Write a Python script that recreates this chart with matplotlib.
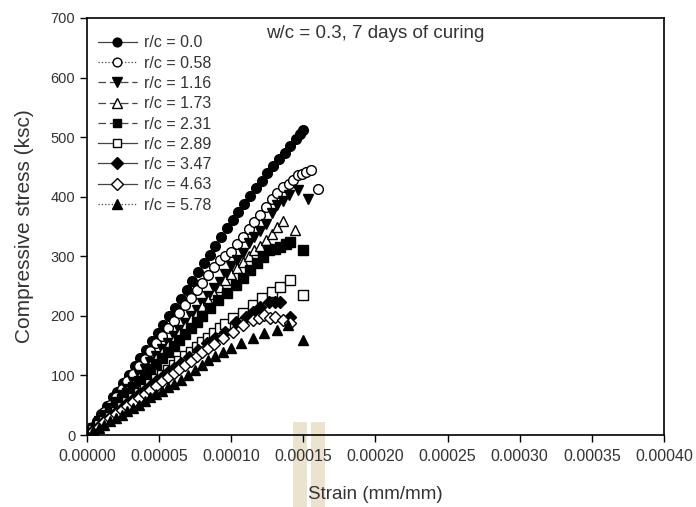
import numpy as np
import matplotlib
matplotlib.use("Agg")
import matplotlib.pyplot as plt
from matplotlib.lines import Line2D
from matplotlib.patches import Rectangle

plt.rcParams['font.family'] = ['Liberation Sans', 'DejaVu Sans']

# strain in microstrain (x 1e-6 mm/mm), stress in ksc
labels = ["r/c = 0.0", "r/c = 0.58", "r/c = 1.16", "r/c = 1.73", "r/c = 2.31",
          "r/c = 2.89", "r/c = 3.47", "r/c = 4.63", "r/c = 5.78"]

strain_00 = [0, 3, 7, 10, 14, 18, 21, 25, 29, 33, 37, 41, 45, 49, 53, 57, 61, 65, 69, 73,
             77, 81, 85, 89, 93, 97, 101, 105, 109, 113, 117, 121, 125, 129, 133, 137, 141,
             145, 148, 150]
stress_00 = [0, 10, 24, 35, 49, 63, 73, 87, 101, 115, 129, 143, 157, 171, 185, 199, 213, 228,
             243, 258, 273, 288, 303, 318, 333, 347, 361, 374, 388, 402, 415, 427, 439, 451,
             463, 474, 485, 497, 506, 512]

strain_058 = [0, 4, 8, 12, 16, 20, 24, 28, 32, 36, 40, 44, 48, 52, 56, 60, 64, 68, 72, 76,
              80, 84, 88, 92, 96, 100, 104, 108, 112, 116, 120, 124, 128, 132, 136, 140, 143,
              146, 149, 152, 155, 160]
stress_058 = [0, 13, 26, 39, 51, 64, 77, 90, 102, 115, 128, 141, 154, 166, 179, 192, 205, 218,
              230, 243, 256, 269, 282, 293, 300, 308, 320, 333, 345, 357, 369, 382, 396, 407,
              416, 422, 428, 436, 438, 441, 445, 413]

strain_116 = [0, 4, 8, 12, 16, 20, 24, 28, 32, 36, 40, 44, 48, 52, 56, 60, 64, 68, 72, 76,
              80, 84, 88, 92, 96, 100, 104, 108, 112, 116, 120, 124, 128, 132, 136, 140, 146, 153]
stress_116 = [0, 12, 23, 34, 45, 56, 67, 78, 89, 100, 111, 122, 133, 144, 155, 166, 177, 188,
              199, 210, 222, 234, 246, 257, 271, 283, 293, 305, 323, 332, 343, 355, 373, 386,
              393, 403, 412, 396]

strain_173 = [0, 4, 8, 12, 16, 20, 24, 28, 32, 36, 40, 44, 48, 52, 56, 60, 64, 68, 72, 76,
              80, 84, 88, 92, 96, 100, 104, 108, 112, 116, 120, 124, 128, 132, 136, 144]
stress_173 = [0, 11, 22, 32, 43, 54, 65, 75, 86, 97, 108, 118, 129, 140, 151, 161, 172, 183,
              194, 205, 216, 226, 237, 248, 260, 271, 281, 290, 301, 311, 318, 327, 338, 349,
              360, 344]

strain_231 = [0, 4, 8, 12, 16, 20, 24, 28, 32, 36, 40, 44, 48, 52, 56, 60, 64, 68, 72, 76,
              80, 85, 91, 97, 103, 108, 113, 118, 122, 126, 130, 134, 138, 141, 150]
stress_231 = [0, 10, 20, 30, 40, 50, 60, 70, 80, 90, 100, 110, 120, 130, 140, 150, 160, 170,
              180, 190, 200, 213, 227, 238, 252, 263, 277, 289, 298, 310, 312, 315, 320, 324, 310]

strain_289 = [0, 4, 8, 12, 16, 20, 24, 28, 32, 36, 40, 44, 48, 52, 56, 60, 64, 68, 72, 76,
              80, 84, 88, 92, 96, 101, 108, 115, 121, 128, 134, 141, 150]
stress_289 = [0, 8, 16, 24, 31, 39, 47, 55, 62, 70, 78, 86, 94, 101, 109, 117, 125, 132, 140,
              148, 156, 163, 171, 179, 187, 196, 205, 218, 230, 240, 248, 260, 235]

strain_347 = [0, 4, 8, 12, 16, 20, 24, 28, 32, 36, 40, 44, 48, 52, 56, 60, 65, 71, 77, 83,
              89, 96, 103, 110, 115, 120, 126, 130, 134, 141]
stress_347 = [0, 8, 15, 23, 30, 38, 45, 53, 60, 68, 75, 83, 90, 98, 105, 113, 121, 131, 143,
              154, 163, 173, 190, 198, 207, 215, 223, 224, 223, 198]

strain_463 = [0, 4, 8, 12, 16, 20, 24, 28, 32, 36, 40, 44, 48, 52, 56, 60, 64, 68, 72, 76,
              80, 84, 88, 94, 101, 108, 115, 119, 123, 127, 130, 136, 141]
stress_463 = [0, 7, 14, 21, 28, 35, 42, 49, 56, 62, 69, 76, 83, 90, 97, 104, 111, 118, 125,
              132, 139, 146, 153, 163, 173, 185, 193, 196, 201, 197, 198, 193, 188]

strain_578 = [0, 4, 8, 12, 16, 20, 24, 28, 32, 36, 40, 44, 48, 52, 56, 60, 65, 70, 75, 80,
              84, 89, 94, 100, 107, 115, 123, 132, 139, 150]
stress_578 = [0, 6, 11, 17, 23, 29, 34, 40, 46, 51, 57, 63, 69, 74, 80, 86, 92, 100, 109, 117,
              126, 132, 139, 146, 154, 163, 171, 176, 185, 159]

strains = [strain_00, strain_058, strain_116, strain_173, strain_231,
           strain_289, strain_347, strain_463, strain_578]
stresses = [stress_00, stress_058, stress_116, stress_173, stress_231,
            stress_289, stress_347, stress_463, stress_578]

# marker, filled?, legend line style
styles = [("o", True, "-"), ("o", False, ":"), ("v", True, (0, (6, 3))),
          ("^", False, (0, (6, 3))), ("s", True, (0, (6, 3))), ("s", False, "-"),
          ("D", True, "-"), ("D", False, "-"), ("^", True, ":")]
msizes = [7.0, 7.0, 7.5, 7.5, 6.8, 6.8, 6.3, 6.3, 7.5]

fig = plt.figure(figsize=(6.96, 5.07), dpi=100)
ax = fig.add_axes([0.125, 0.142, 0.829, 0.8225])
ax.set_facecolor("none")

for xs, ys, (mk, filled, ls), ms in zip(strains, stresses, styles, msizes):
    ax.plot(np.array(xs) * 1e-6, ys, linestyle="none", marker=mk, ms=ms,
            mfc="black" if filled else "white", mec="black", mew=1.0)

handles = [Line2D([], [], color="#444444", lw=0.9, linestyle=ls, marker=mk, ms=ms * 0.9,
                  mfc="black" if filled else "white", mec="black", mew=1.0)
           for (mk, filled, ls), ms in zip(styles, msizes)]
leg = ax.legend(handles, labels, loc="upper left", frameon=False, fontsize=11.5,
                handlelength=2.4, handletextpad=0.5, labelspacing=0.33,
                borderaxespad=0.3, bbox_to_anchor=(0.0, 0.985))
for t in leg.get_texts():
    t.set_color("#333333")

ax.set_xlim(0, 0.0004)
ax.set_ylim(0, 700)
ax.set_xticks(np.arange(0, 0.00041, 0.00005))
ax.set_xticklabels([f"{v:.5f}" for v in np.arange(0, 0.00041, 0.00005)])
ax.set_yticks(range(0, 701, 100))
ax.tick_params(direction="out", length=5, width=1, colors="#333333")
ax.tick_params(axis="x", labelsize=11.5, pad=5)
ax.tick_params(axis="y", labelsize=10.5)
ax.tick_params(axis="both", color="black")
for sp in ax.spines.values():
    sp.set_linewidth(1.2)

ax.text(0.5, 0.963, "w/c = 0.3, 7 days of curing", transform=ax.transAxes,
        ha="center", va="center", fontsize=13.5, color="#333333")
ax.set_xlabel("Strain (mm/mm)", fontsize=13.5, color="#333333", labelpad=16)
ax.set_ylabel("Compressive stress (ksc)", fontsize=15, color="#333333", labelpad=12)

# light tan bands over the strain axis label area
for x0, w in [(293, 14), (311, 14)]:
    fig.patches.append(Rectangle((x0 / 696, 0), w / 696, 85 / 507, transform=fig.transFigure,
                                 facecolor="#ece3cf", edgecolor="none", zorder=-1))

fig.savefig("out.png", dpi=100, facecolor="white")
